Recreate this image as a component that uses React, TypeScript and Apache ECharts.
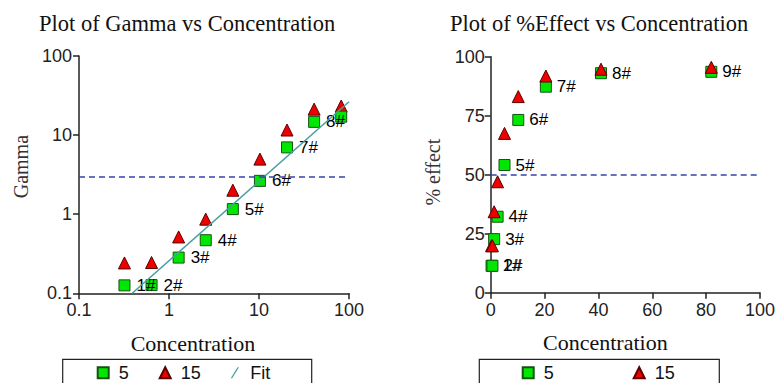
import React, { useEffect, useRef } from "react";
import * as echarts from "echarts";

const concentration = [0.32, 0.64, 1.28, 2.56, 5.12, 10.24, 20.48, 40.96, 81.92];
const gamma5 = [0.126, 0.127, 0.283, 0.469, 1.16, 2.64, 6.99, 14.7, 17.1];
const gamma15 = [0.242, 0.245, 0.516, 0.865, 2.01, 4.97, 11.6, 21.3, 23.3];
const effect5 = [11.4, 11.4, 22.7, 32.2, 54.1, 73.2, 87.3, 93.0, 93.6];
const effect15 = [19.9, 19.9, 34.3, 47.0, 67.5, 83.1, 91.8, 94.7, 95.5];
const fitX = [0.39, 100];
const fitY = [0.1, 26.4];
const leftLabels = ["1#", "2#", "3#", "4#", "5#", "6#", "7#", "8#", ""];
const rightLabels = ["1#", "2#", "3#", "4#", "5#", "6#", "7#", "8#", "9#"];
const gammaThreshold = 3;
const effectThreshold = 50;

const SANS = "Liberation Sans";
const SERIF = "Liberation Serif";
const SQ_FILL = "#00e800";
const SQ_BORDER = "#145214";
const TR_FILL = "#ee0000";
const TR_BORDER = "#5a0000";
const FIT = "#4a9ea0";
const DASH = "#3444aa";

export default function App() {
  const ref = useRef<HTMLDivElement>(null);
  useEffect(() => {
    document.body.style.margin = "0";
    if (!ref.current) return;
    const chart = echarts.init(ref.current, null, { renderer: "svg" });
    const axisCommon = {
      axisLine: { lineStyle: { color: "#222", width: 1.5 } },
      axisTick: { length: 6, lineStyle: { color: "#222", width: 1.5 } },
      splitLine: { show: false },
      minorTick: { show: false },
    };
    const tickLabel = (margin: number) => ({
      fontFamily: SANS,
      fontSize: 18,
      color: "#222",
      margin,
    });
    const xName = (pad: number) => ({
      fontFamily: SERIF,
      fontSize: 22,
      color: "#111",
      padding: [0, pad, 0, 0],
    });
    const yName = (pad: number) => ({
      fontFamily: SERIF,
      fontSize: 20,
      color: "#333",
      padding: [0, 0, 0, pad],
    });
    const pointLabel = (labels: string[], distance: number) => ({
      show: true,
      position: "right",
      distance,
      fontFamily: SANS,
      fontSize: 17,
      color: "#000",
      opacity: 1,
      formatter: (p: any) => labels[p.dataIndex],
    });
    const sqStyle = { color: SQ_FILL, borderColor: SQ_BORDER, borderWidth: 1, opacity: 1 };
    const trStyle = { color: TR_FILL, borderColor: TR_BORDER, borderWidth: 1, opacity: 1 };
    const legendText = {
      fontFamily: SANS,
      fontSize: 18,
      color: "#111",
      padding: [0, 0, 0, 5],
    };
    const slashIcon = "path://M0,12 L1.6,12 L9,0 L7.4,0 Z";

    chart.setOption({
      animation: false,
      backgroundColor: "#fff",
      title: [
        {
          text: "Plot of Gamma vs Concentration",
          left: 39,
          top: 12,
          padding: 0,
          textStyle: { fontFamily: SERIF, fontSize: 22.5, fontWeight: "normal", color: "#111" },
        },
        {
          text: "Plot of %Effect vs Concentration",
          left: 450,
          top: 12,
          padding: 0,
          textStyle: { fontFamily: SERIF, fontSize: 22.5, fontWeight: "normal", color: "#111" },
        },
      ],
      grid: [
        { left: 79, top: 56, width: 270, height: 237.3 },
        { left: 490.7, top: 56.7, width: 269.3, height: 236 },
      ],
      xAxis: [
        {
          gridIndex: 0,
          type: "log",
          logBase: 10,
          min: 0.1,
          max: 100,
          name: "Concentration",
          nameLocation: "middle",
          nameGap: 39,
          nameTextStyle: xName(42),
          ...axisCommon,
          axisLabel: tickLabel(8),
        },
        {
          gridIndex: 1,
          type: "value",
          min: 0,
          max: 100,
          interval: 20,
          name: "Concentration",
          nameLocation: "middle",
          nameGap: 39,
          nameTextStyle: xName(40),
          ...axisCommon,
          axisLabel: tickLabel(8),
        },
      ],
      yAxis: [
        {
          gridIndex: 0,
          type: "log",
          logBase: 10,
          min: 0.1,
          max: 100,
          name: "Gamma",
          nameLocation: "middle",
          nameGap: 48,
          nameRotate: 90,
          nameTextStyle: yName(16),
          ...axisCommon,
          axisLabel: tickLabel(7),
        },
        {
          gridIndex: 1,
          type: "value",
          min: 0,
          max: 100,
          interval: 25,
          name: "% effect",
          nameLocation: "middle",
          nameGap: 48,
          nameRotate: 90,
          nameTextStyle: yName(5),
          ...axisCommon,
          axisLabel: tickLabel(6),
        },
      ],
      legend: [
        {
          left: 96.7,
          top: 363.7,
          padding: 0,
          itemWidth: 11,
          itemHeight: 11,
          itemGap: 30,
          textStyle: legendText,
          data: [
            { name: "5", icon: "rect" },
            { name: "15", icon: "triangle" },
            { name: "Fit", icon: slashIcon, itemStyle: { color: FIT } },
          ],
        },
        {
          left: 521.7,
          top: 363.7,
          padding: 0,
          itemWidth: 11,
          itemHeight: 11,
          itemGap: 79,
          textStyle: legendText,
          data: [
            { name: "5", icon: "rect" },
            { name: "15", icon: "triangle" },
          ],
        },
      ],
      graphic: [
        {
          type: "rect",
          shape: { x: 62.7, y: 359.3, width: 249, height: 40 },
          style: { fill: "none", stroke: "#222", lineWidth: 1.2 },
        },
        {
          type: "rect",
          shape: { x: 479.3, y: 359.3, width: 240, height: 40 },
          style: { fill: "none", stroke: "#222", lineWidth: 1.2 },
        },
      ],
      series: [
        {
          name: "15",
          type: "scatter",
          xAxisIndex: 0,
          yAxisIndex: 0,
          symbol: "triangle",
          symbolSize: 12,
          clip: false,
          itemStyle: trStyle,
          data: concentration.map((c, i) => [c, gamma15[i]]),
        },
        {
          name: "5",
          type: "scatter",
          xAxisIndex: 0,
          yAxisIndex: 0,
          symbol: "rect",
          symbolSize: 11,
          clip: false,
          itemStyle: sqStyle,
          label: pointLabel(leftLabels, 6),
          data: concentration.map((c, i) => [c, gamma5[i]]),
          markLine: {
            silent: true,
            symbol: "none",
            label: { show: false },
            lineStyle: { type: [6, 4], color: DASH, width: 1.5 },
            data: [{ yAxis: gammaThreshold }],
          },
        },
        {
          name: "Fit",
          type: "line",
          xAxisIndex: 0,
          yAxisIndex: 0,
          symbol: "none",
          lineStyle: { color: FIT, width: 1.5 },
          itemStyle: { color: FIT },
          data: fitX.map((x, i) => [x, fitY[i]]),
        },
        {
          name: "5",
          type: "scatter",
          xAxisIndex: 1,
          yAxisIndex: 1,
          symbol: "rect",
          symbolSize: 11,
          clip: false,
          itemStyle: sqStyle,
          label: pointLabel(rightLabels, 5),
          data: concentration.map((c, i) => [c, effect5[i]]),
          markLine: {
            silent: true,
            symbol: "none",
            label: { show: false },
            lineStyle: { type: [6, 4], color: DASH, width: 1.5 },
            data: [{ yAxis: effectThreshold }],
          },
        },
        {
          name: "15",
          type: "scatter",
          xAxisIndex: 1,
          yAxisIndex: 1,
          symbol: "triangle",
          symbolSize: 12,
          clip: false,
          itemStyle: trStyle,
          data: concentration.map((c, i) => [c, effect15[i]]),
        },
      ],
    });
    return () => chart.dispose();
  }, []);
  return (
    <div
      ref={ref}
      style={{ width: 778, height: 383, position: "absolute", left: 0, top: 0 }}
    />
  );
}
